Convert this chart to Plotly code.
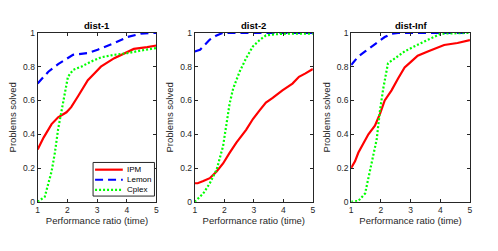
import plotly.graph_objects as go

# dist-1
d1_ipm_x = [1, 1.2, 1.47, 1.69, 1.97, 2.13, 2.36, 2.69, 2.91, 3.13, 3.58, 4.02, 4.24, 4.69, 5]
d1_ipm_y = [0.31, 0.38, 0.46, 0.50, 0.53, 0.56, 0.625, 0.72, 0.76, 0.80, 0.85, 0.885, 0.905, 0.915, 0.925]
d1_lem_x = [1, 1.36, 1.69, 2.02, 2.19, 2.69, 3.02, 3.58, 4.02, 4.47, 5]
d1_lem_y = [0.70, 0.77, 0.815, 0.85, 0.87, 0.88, 0.90, 0.94, 0.975, 0.995, 1.0]
d1_cpx_x = [1, 1.24, 1.47, 1.58, 1.69, 1.8, 1.91, 2.02, 2.19, 2.47, 2.8, 3.13, 3.58, 4.02, 4.47, 5]
d1_cpx_y = [0.0, 0.03, 0.18, 0.29, 0.43, 0.54, 0.65, 0.74, 0.78, 0.80, 0.83, 0.855, 0.87, 0.88, 0.895, 0.91]

# dist-2
d2_ipm_x = [1, 1.1, 1.29, 1.51, 1.74, 1.96, 2.18, 2.41, 2.74, 2.97, 3.19, 3.41, 3.64, 3.97, 4.31, 4.53, 4.75, 5]
d2_ipm_y = [0.11, 0.11, 0.123, 0.14, 0.18, 0.227, 0.29, 0.35, 0.426, 0.49, 0.54, 0.587, 0.615, 0.66, 0.70, 0.74, 0.76, 0.786]
d2_lem_x = [1, 1.18, 1.4, 1.51, 1.74, 1.96, 5]
d2_lem_y = [0.89, 0.90, 0.94, 0.96, 0.985, 1.0, 1.0]
d2_cpx_x = [1, 1.29, 1.51, 1.74, 1.96, 2.07, 2.18, 2.3, 2.52, 2.74, 2.97, 3.19, 3.41, 3.64, 4.0, 5]
d2_cpx_y = [0.0, 0.05, 0.11, 0.19, 0.33, 0.445, 0.58, 0.67, 0.77, 0.85, 0.92, 0.956, 0.985, 0.99, 0.995, 0.995]

# dist-Inf
d3_ipm_x = [1, 1.13, 1.24, 1.36, 1.58, 1.8, 1.97, 2.13, 2.36, 2.58, 2.8, 3.02, 3.24, 3.58, 3.91, 4.13, 4.58, 5]
d3_ipm_y = [0.20, 0.24, 0.29, 0.33, 0.40, 0.45, 0.52, 0.60, 0.66, 0.73, 0.795, 0.83, 0.865, 0.89, 0.91, 0.928, 0.94, 0.957]
d3_lem_x = [1, 1.24, 1.47, 1.8, 2.13, 2.36, 2.58, 5]
d3_lem_y = [0.81, 0.86, 0.89, 0.93, 0.975, 0.995, 1.0, 1.0]
d3_cpx_x = [1, 1.24, 1.47, 1.69, 1.86, 1.97, 2.08, 2.24, 2.47, 2.8, 3.24, 3.69, 4.02, 5]
d3_cpx_y = [0.0, 0.005, 0.05, 0.22, 0.37, 0.54, 0.67, 0.82, 0.85, 0.89, 0.93, 0.966, 0.995, 1.0]

titles = ["dist-1", "dist-2", "dist-Inf"]
x_ticks = [1, 2, 3, 4, 5]
y_ticks = [0, 0.2, 0.4, 0.6, 0.8, 1]
y_tick_labels = ["0", "0.2", "0.4", "0.6", "0.8", "1"]
names = ["IPM", "Lemon", "Cplex"]

panels = [
    [(d1_ipm_x, d1_ipm_y), (d1_lem_x, d1_lem_y), (d1_cpx_x, d1_cpx_y)],
    [(d2_ipm_x, d2_ipm_y), (d2_lem_x, d2_lem_y), (d2_cpx_x, d2_cpx_y)],
    [(d3_ipm_x, d3_ipm_y), (d3_lem_x, d3_lem_y), (d3_cpx_x, d3_cpx_y)],
]
styles = [
    dict(color="#ff0000", width=2.2, dash="solid"),
    dict(color="#0000ff", width=2.2, dash="8px,5px"),
    dict(color="#00ff00", width=2.2, dash="2px,2px"),
]

W, H = 498, 251


def px(x):
    return x / W


def py(y):
    return 1 - y / H


x_domains = [(px(36), px(156)), (px(194.7), px(314)), (px(352.7), px(472.7))]
y_domain = (py(205), py(29))

fig = go.Figure()
axis_color = "#262626"
font = "Liberation Sans, Arial, sans-serif"

for i, series in enumerate(panels):
    xa = "x" if i == 0 else f"x{i+1}"
    ya = "y" if i == 0 else f"y{i+1}"
    for j, (xs, ys) in enumerate(series):
        fig.add_trace(go.Scatter(
            x=xs, y=ys, mode="lines", name=names[j], line=styles[j],
            xaxis=xa, yaxis=ya, showlegend=False,
        ))
    common = dict(showgrid=False, zeroline=False, showline=True, linecolor=axis_color,
                  linewidth=1, mirror="ticks", ticks="inside", ticklen=3,
                  tickcolor=axis_color, tickfont=dict(size=8.5, color=axis_color, family=font))
    xkey = "xaxis" if i == 0 else f"xaxis{i+1}"
    ykey = "yaxis" if i == 0 else f"yaxis{i+1}"
    fig.layout[xkey] = dict(common, domain=x_domains[i], range=[1, 5], tickvals=x_ticks,
                            anchor=ya,
                            title=dict(text="Performance ratio (time)", font=dict(size=9.5, color=axis_color, family=font), standoff=2))
    fig.layout[ykey] = dict(common, domain=y_domain, range=[0, 1], tickvals=y_ticks,
                            ticktext=y_tick_labels, anchor=xa,
                            title=dict(text="Problems solved", font=dict(size=9.5, color=axis_color, family=font), standoff=4))
    fig.add_annotation(text="<b>" + titles[i] + "</b>", xref="paper", yref="paper",
                       x=(x_domains[i][0] + x_domains[i][1]) / 2, y=y_domain[1],
                       xanchor="center", yanchor="bottom", yshift=0, showarrow=False,
                       font=dict(size=9.5, color="#000000", family=font))

# Custom compact legend (as in MATLAB), inside panel 1
fig.add_shape(type="rect", xref="paper", yref="paper", x0=px(92), x1=px(154), y0=py(199), y1=py(164),
              line=dict(color=axis_color, width=1), fillcolor="white", layer="above")
row_y = [171.5, 182, 192.5]
for j in range(3):
    fig.add_shape(type="line", xref="paper", yref="paper", x0=px(94), x1=px(122),
                  y0=py(row_y[j]), y1=py(row_y[j]), line=styles[j], layer="above")
    fig.add_annotation(text=names[j], xref="paper", yref="paper", x=px(124), y=py(row_y[j]),
                       xanchor="left", yanchor="middle", showarrow=False,
                       font=dict(size=8, color="#000000", family=font))

fig.update_layout(
    width=W, height=H, margin=dict(l=0, r=0, t=0, b=0),
    paper_bgcolor="white", plot_bgcolor="white", showlegend=False,
)

fig.write_html("out.html", config={"displayModeBar": False},
               post_script="document.body.style.margin='0';document.body.style.overflow='hidden';")
